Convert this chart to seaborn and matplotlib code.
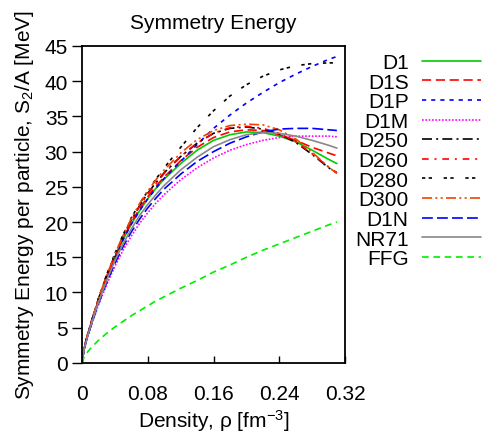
import matplotlib
matplotlib.use("Agg")
import matplotlib.pyplot as plt
import seaborn as sns

# density grid [fm^-3]
rho = [0, 0.0025, 0.005, 0.01, 0.02, 0.03, 0.04, 0.05, 0.06, 0.07, 0.08, 0.09,
       0.10, 0.12, 0.14, 0.16, 0.18, 0.20, 0.22, 0.24, 0.26, 0.28, 0.30, 0.31]

# symmetry energy per particle [MeV]
d1   = [0, 1.9, 3.1, 5.1, 8.8, 12.0, 14.9, 17.5, 19.7, 21.6, 23.3, 24.8,
        26.1, 28.3, 30.2, 31.6, 32.4, 32.8, 32.7, 32.2, 31.4, 30.2, 28.9, 28.3]
d1s  = [0, 1.9, 3.1, 5.2, 8.9, 12.1, 15.0, 17.7, 19.9, 21.9, 23.6, 25.1,
        26.4, 28.7, 30.6, 32.0, 32.8, 33.1, 33.0, 32.4, 31.6, 30.6, 29.8, 29.4]
d1p  = [0, 1.9, 3.1, 5.1, 8.8, 12.0, 14.9, 17.5, 19.7, 21.6, 23.3, 24.8,
        26.2, 28.6, 31.0, 33.3, 35.2, 36.9, 38.4, 39.8, 41.0, 42.1, 43.1, 43.5]
d1m  = [0, 1.8, 2.9, 4.8, 8.2, 11.1, 13.7, 16.0, 18.0, 19.8, 21.3, 22.7,
        23.9, 26.0, 27.7, 29.1, 30.2, 31.0, 31.6, 32.0, 32.2, 32.2, 32.2, 32.1]
d250 = [0, 2.0, 3.2, 5.3, 9.1, 12.4, 15.3, 18.0, 20.3, 22.3, 24.1, 25.6,
        27.0, 29.3, 31.2, 32.6, 33.3, 33.5, 33.2, 32.5, 31.3, 29.6, 27.7, 27.0]
d260 = [0, 2.0, 3.2, 5.3, 9.0, 12.3, 15.2, 17.9, 20.2, 22.2, 24.0, 25.5,
        26.9, 29.3, 31.2, 32.6, 33.4, 33.6, 33.3, 32.6, 31.4, 29.7, 27.8, 27.0]
d280 = [0, 2.0, 3.2, 5.3, 9.1, 12.5, 15.5, 18.2, 20.6, 22.6, 24.4, 26.1,
        27.7, 30.6, 33.4, 35.8, 37.9, 39.5, 40.7, 41.6, 42.2, 42.5, 42.6, 42.6]
d300 = [0, 2.0, 3.2, 5.3, 9.1, 12.4, 15.4, 18.1, 20.5, 22.6, 24.4, 26.0,
        27.4, 29.8, 31.7, 33.0, 33.7, 33.9, 33.8, 33.1, 31.8, 29.9, 27.8, 26.9]
d1n  = [0, 1.8, 3.0, 4.9, 8.4, 11.4, 14.1, 16.5, 18.6, 20.4, 22.0, 23.4,
        24.7, 26.8, 28.6, 30.0, 31.2, 32.1, 32.8, 33.2, 33.3, 33.3, 33.1, 33.0]
nr71 = [0, 1.9, 3.0, 5.0, 8.6, 11.7, 14.5, 16.9, 19.0, 20.9, 22.5, 23.9,
        25.2, 27.4, 29.2, 30.7, 31.7, 32.4, 32.7, 32.6, 32.2, 31.6, 30.9, 30.5]
ffg  = [0, 0.8, 1.3, 2.0, 3.2, 4.2, 5.1, 5.9, 6.7, 7.4, 8.1, 8.8,
        9.4, 10.6, 11.7, 12.9, 13.9, 15.0, 16.0, 16.9, 17.8, 18.7, 19.6, 20.0]

names = ["D1", "D1S", "D1P", "D1M", "D250", "D260", "D280", "D300", "D1N", "NR71", "FFG"]
values = [d1, d1s, d1p, d1m, d250, d260, d280, d300, d1n, nr71, ffg]
colors = ["#00cc00", "#ff0000", "#0000ff", "#ff00ff", "#000000", "#ff0000",
          "#000000", "#ee4400", "#0000ff", "#888888", "#00ee00"]
styles = ["-", (0, (5.5, 2.8)), (0, (2.5, 3.0)), (0, (1.0, 1.0)),
          (0, (6.0, 2.5, 1.2, 2.5)), (0, (4.0, 3.5, 1.2, 3.5)),
          (0, (2.0, 2.0, 2.0, 7.0)), (0, (6.0, 2.0, 1.2, 2.0, 1.2, 2.0)),
          (0, (6.5, 2.5)), "-", (0, (4.0, 2.8))]

xticks = [0, 0.08, 0.16, 0.24, 0.32]
xticklabels = ["0", "0.08", "0.16", "0.24", "0.32"]
yticks = list(range(0, 50, 5))

sns.set_theme(style="ticks")
plt.rcParams['font.family'] = ['Liberation Sans', 'DejaVu Sans']
plt.rcParams['mathtext.fontset'] = 'custom'
plt.rcParams['mathtext.rm'] = 'Liberation Sans'
plt.rcParams['mathtext.it'] = 'Liberation Sans:italic'
plt.rcParams['text.color'] = 'black'
plt.rcParams['axes.labelcolor'] = 'black'
FS = 15

fig = plt.figure(figsize=(4.82, 4.39), dpi=100)
ax = fig.add_axes([0.170, 0.171, 0.546, 0.722])

for name, vals, col, ls in zip(names, values, colors, styles):
    sns.lineplot(x=rho, y=vals, ax=ax, color=col, linestyle=ls,
                 linewidth=1.2, label=name)

handles, labels = ax.get_legend_handles_labels()
if ax.get_legend() is not None:
    ax.get_legend().remove()

ax.set_xlim(0, 0.32)
ax.set_ylim(0, 45)
ax.set_xticks(xticks)
ax.set_xticklabels(xticklabels)
ax.set_yticks(yticks)
ax.tick_params(axis='y', direction='out', length=7, width=1, pad=3,
               labelsize=FS, colors='black')
ax.tick_params(axis='x', direction='in', length=5, width=1, pad=15,
               labelsize=FS, colors='black')
for sp in ax.spines.values():
    sp.set_visible(True)
    sp.set_color('black')
    sp.set_linewidth(1.3)

ax.set_xlabel("Density, ρ [fm$^{\\mathregular{-3}}$]", fontsize=FS, labelpad=3,
              color='black')
ax.set_ylabel("Symmetry Energy per particle, S$_{\\mathregular{2}}$/A [MeV]",
              fontsize=FS, labelpad=6, color='black')
ax.set_title("Symmetry Energy", fontsize=FS, pad=13, color='black')

leg = fig.legend(handles, labels, loc='upper right', bbox_to_anchor=(0.997, 0.877),
                 frameon=False, markerfirst=False, handlelength=2.8,
                 handletextpad=0.65, labelspacing=0.03, borderpad=0,
                 borderaxespad=0, fontsize=FS)
for t in leg.get_texts():
    t.set_color('black')

fig.savefig("out.png", dpi=100)
